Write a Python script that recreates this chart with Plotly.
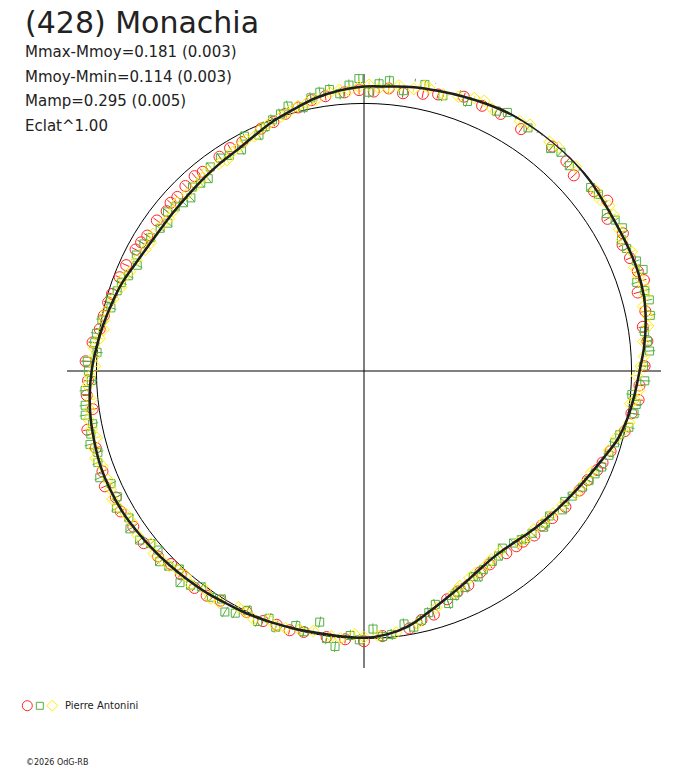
import plotly.graph_objects as go

# fitted lightcurve (phase in degrees, relative flux, 1.0 = mean)
fit_phase = [0, 5, 10, 15, 20, 25, 30, 35, 40, 45, 50, 55, 60, 65, 70, 75, 80, 85, 90, 95,
             100, 105, 110, 115, 120, 125, 130, 135, 140, 145, 150, 155, 160, 165, 170, 175,
             180, 185, 190, 195, 200, 205, 210, 215, 220, 225, 230, 235, 240, 245, 250, 255,
             260, 265, 270, 275, 280, 285, 290, 295, 300, 305, 310, 315, 320, 325, 330, 335,
             340, 345, 350, 355, 360]
fit_flux = [1.063, 1.067, 1.077, 1.083, 1.091, 1.099, 1.106, 1.109, 1.110, 1.109, 1.104, 1.096,
            1.091, 1.090, 1.089, 1.083, 1.069, 1.051, 1.030, 1.015, 1.001, 0.982, 0.952, 0.927,
            0.907, 0.890, 0.875, 0.862, 0.850, 0.848, 0.859, 0.879, 0.903, 0.933, 0.967, 0.988,
            0.997, 0.995, 0.994, 0.997, 1.001, 1.006, 1.009, 1.016, 1.021, 1.027, 1.033, 1.039,
            1.045, 1.047, 1.047, 1.042, 1.037, 1.029, 1.018, 1.004, 0.990, 0.976, 0.962, 0.944,
            0.932, 0.927, 0.927, 0.930, 0.936, 0.944, 0.952, 0.970, 0.993, 1.013, 1.036, 1.052,
            1.063]

# observations, one list pair per session symbol
red_phase = [2, 8, 12, 20, 28, 33, 37, 44, 47, 52, 58, 62, 64, 67, 70, 74, 78, 84, 89, 93,
             96, 103, 108, 113, 119, 124, 128, 134, 137, 142, 147, 150, 154, 160, 164, 170,
             176, 184, 188, 193, 196, 202, 206, 212, 218, 222, 228, 236, 243, 249, 254, 258,
             262, 268, 272, 282, 287, 291, 294, 298, 302, 306, 309, 313, 316, 321, 326, 332,
             337, 343, 349, 352, 356,
             5, 15, 24, 40, 55, 72, 81, 99, 111, 116, 131, 139, 157, 167, 180, 199, 215, 225,
             232, 240, 246, 265, 276, 279, 285, 300, 311, 319, 329, 340, 346, 359]
red_flux = [1.045, 1.048, 1.059, 1.091, 1.088, 1.078, 1.119, 1.089, 1.072, 1.091, 1.073, 1.096,
            1.075, 1.080, 1.089, 1.064, 1.075, 1.065, 1.049, 1.031, 1.032, 1.000, 0.969, 0.947,
            0.921, 0.908, 0.893, 0.885, 0.872, 0.864, 0.862, 0.869, 0.890, 0.908, 0.947, 0.977,
            0.993, 1.005, 1.004, 1.001, 1.008, 1.008, 1.002, 1.012, 1.029, 1.023, 1.036, 1.040,
            1.041, 1.047, 1.043, 1.057, 1.024, 1.032, 1.041, 0.994, 0.985, 0.978, 0.973, 0.967,
            0.955, 0.957, 0.949, 0.954, 0.961, 0.958, 0.966, 0.969, 0.984, 1.005, 1.031, 1.037,
            1.044,
            1.060, 1.070, 1.085, 1.095, 1.110, 1.100, 1.055, 1.012, 0.955, 0.930, 0.880, 0.868,
            0.895, 0.955, 1.010, 1.003, 1.025, 1.020, 1.045, 1.050, 1.060, 1.040, 1.020, 1.000,
            0.990, 0.962, 0.958, 0.965, 0.972, 0.990, 1.015, 1.050]

green_phase = [359, 1, 5, 8, 10, 14, 16, 21, 24, 27, 31, 34, 38, 42, 45, 49, 53, 57, 61, 65,
               68, 72, 76, 79, 82, 86, 89, 92, 95, 99, 102, 106, 109, 112, 116, 118, 121, 125,
               128, 131, 134, 136, 139, 142, 146, 149, 152, 155, 157, 160, 163, 167, 171, 174,
               178, 181, 186, 190, 195, 199, 203, 206, 210, 214, 217, 221, 225, 229, 233, 238,
               241, 246, 251, 255, 259, 263, 266, 270, 274, 278, 281, 284, 288, 292, 297, 302,
               307, 311, 315, 319, 323, 328, 333, 336, 340, 344, 347, 351, 355,
               3, 12, 19, 29, 36, 40, 47, 51, 55, 59, 63, 70, 74, 84, 97, 104, 114, 123, 130,
               137, 144, 151, 158, 165, 169, 176, 183, 188, 193, 201, 208, 212, 219, 223, 227,
               231, 236, 243, 248, 253, 257, 261, 268, 272, 276, 286, 290, 295, 300, 305, 309,
               313, 317, 321, 326, 331, 338, 342, 349, 353, 357]
green_flux = [1.093, 1.042, 1.089, 1.058, 1.119, 1.128, 1.070, 1.079, 1.125, 1.090, 1.118, 1.096,
              1.131, 1.100, 1.085, 1.126, 1.097, 1.080, 1.104, 1.083, 1.098, 1.072, 1.099, 1.090,
              1.058, 1.070, 1.045, 1.050, 1.005, 1.022, 1.012, 0.974, 0.968, 0.958, 0.935, 0.925,
              0.908, 0.905, 0.880, 0.890, 0.873, 0.870, 0.852, 0.840, 0.858, 0.866, 0.870, 0.893,
              0.897, 0.925, 0.912, 0.956, 0.957, 0.990, 0.965, 1.005, 1.035, 0.953, 0.985, 1.013,
              1.017, 0.995, 1.040, 1.020, 1.010, 1.048, 1.032, 1.020, 1.050, 1.036, 1.058, 1.035,
              1.052, 1.060, 1.033, 1.050, 1.045, 1.030, 1.000, 1.010, 0.998, 0.975, 0.970, 0.950,
              0.955, 0.940, 0.918, 0.935, 0.915, 0.930, 0.955, 0.950, 0.985, 0.965, 0.999, 1.030,
              1.010, 1.055, 1.040,
              1.075, 1.095, 1.112, 1.105, 1.120, 1.085, 1.115, 1.090, 1.118, 1.095, 1.080, 1.110,
              1.092, 1.065, 1.025, 0.985, 0.945, 0.895, 0.885, 0.862, 0.855, 0.880, 0.905, 0.935,
              0.975, 0.995, 0.990, 1.010, 1.000, 0.990, 1.025, 1.005, 1.030, 1.012, 1.045, 1.025,
              1.055, 1.035, 1.065, 1.040, 1.048, 1.055, 1.020, 1.035, 1.012, 0.985, 0.965, 0.935,
              0.950, 0.930, 0.945, 0.922, 0.940, 0.925, 0.960, 0.945, 0.985, 1.010, 1.040, 1.060,
              1.070]

yellow_phase = [3, 7, 10, 13, 16, 19, 22, 26, 29, 32, 36, 39, 43, 46, 50, 54, 58, 63, 66, 69,
                73, 77, 81, 84, 87, 91, 94, 97, 101, 105, 114, 120, 127, 133, 138, 143, 148,
                153, 158, 168, 177, 182, 187, 191, 197, 201, 204, 208, 212, 216, 219, 223, 227,
                231, 234, 239, 243, 247, 252, 256, 260, 264, 267, 271, 275, 279, 283, 289, 293,
                299, 303, 308, 312, 318, 322, 327, 331, 335, 339, 342, 346, 350, 353, 357,
                1, 5, 12, 24, 34, 41, 48, 52, 56, 61, 71, 75, 79, 89, 96, 103, 108, 117, 124,
                130, 136, 146, 151, 156, 163, 173, 180, 185, 194, 199, 206, 214, 221, 225, 229,
                237, 241, 245, 250, 254, 258, 262, 269, 273, 277, 281, 286, 291, 296, 301, 306,
                310, 315, 320, 325, 329, 333, 337, 344, 348, 355, 359]
yellow_flux = [1.058, 1.075, 1.070, 1.085, 1.075, 1.084, 1.100, 1.091, 1.112, 1.100, 1.115, 1.102,
               1.118, 1.100, 1.112, 1.090, 1.100, 1.083, 1.095, 1.082, 1.092, 1.070, 1.075, 1.050,
               1.048, 1.020, 1.030, 1.003, 1.010, 0.975, 0.930, 0.915, 0.885, 0.868, 0.862, 0.845,
               0.858, 0.868, 0.895, 0.965, 0.990, 0.985, 1.000, 0.990, 1.005, 0.995, 1.015, 1.000,
               1.020, 1.010, 1.028, 1.018, 1.035, 1.025, 1.045, 1.038, 1.055, 1.040, 1.055, 1.030,
               1.045, 1.025, 1.035, 1.005, 1.015, 0.985, 0.990, 0.960, 0.950, 0.935, 0.940, 0.925,
               0.940, 0.935, 0.950, 0.940, 0.960, 0.968, 0.990, 1.000, 1.020, 1.030, 1.048, 1.050,
               1.070, 1.060, 1.090, 1.105, 1.110, 1.108, 1.120, 1.098, 1.105, 1.090, 1.085, 1.088,
               1.080, 1.035, 1.018, 0.995, 0.962, 0.925, 0.895, 0.878, 0.870, 0.850, 0.862, 0.880,
               0.925, 0.985, 0.995, 1.003, 0.995, 1.010, 1.005, 1.025, 1.015, 1.030, 1.040, 1.035,
               1.050, 1.045, 1.040, 1.050, 1.040, 1.035, 1.025, 1.010, 0.995, 0.990, 0.975, 0.965,
               0.945, 0.930, 0.932, 0.930, 0.935, 0.940, 0.945, 0.955, 0.970, 0.985, 1.010, 1.025,
               1.055, 1.062]

R_MAX = 1.11

W, H = 688, 768


def px(x):
    return x / W


def py(y):
    return 1 - y / H


def err_segments(phase, flux, e):
    th, rr = [], []
    for t, r in zip(phase, flux):
        th += [t, t, None]
        rr += [r - e, r + e, None]
    return th, rr


series = [
    (red_phase, red_flux, '#ff2424', 'circle-open', 11, 0.016),
    (green_phase, green_flux, '#52b043', 'square-open', 8, 0.021),
    (yellow_phase, yellow_flux, '#ffee00', 'diamond-open', 9, 0.013),
]

fig = go.Figure()

for ph, fl, col, sym, sz, e in series:
    th, rr = err_segments(ph, fl, e)
    fig.add_trace(go.Scatterpolar(r=rr, theta=th, mode='lines',
                                  line=dict(color=col, width=1), hoverinfo='skip'))
    fig.add_trace(go.Scatterpolar(r=fl, theta=ph, mode='markers',
                                  marker=dict(symbol=sym, size=sz, color=col,
                                              line=dict(color=col, width=1))))

fig.add_trace(go.Scatterpolar(r=fit_flux, theta=fit_phase, mode='lines',
                              line=dict(color='#1e1e1e', width=2.5, shape='spline')))

fig.update_layout(
    width=W, height=H,
    margin=dict(l=0, r=0, t=0, b=0),
    paper_bgcolor='white',
    showlegend=False,
    polar=dict(
        domain=dict(x=[px(67), px(661)], y=[py(668), py(74)]),
        bgcolor='white',
        radialaxis=dict(range=[0, R_MAX], tickmode='array', tickvals=[1.0],
                        showgrid=True, gridcolor='black', gridwidth=1,
                        showline=False, showticklabels=False, ticks=''),
        angularaxis=dict(rotation=90, direction='clockwise', tickmode='array',
                         tickvals=[0, 90, 180, 270], showgrid=True,
                         gridcolor='black', gridwidth=1, showline=False,
                         showticklabels=False, ticks=''),
    ),
)

txt = '#222222'
fig.add_annotation(text='(428) Monachia', x=px(23), y=py(3), xref='paper', yref='paper',
                   xanchor='left', yanchor='top', showarrow=False,
                   font=dict(family='DejaVu Sans', size=30, color=txt))
stats = ['Mmax-Mmoy=0.181 (0.003)', 'Mmoy-Mmin=0.114 (0.003)',
         'Mamp=0.295 (0.005)', 'Eclat^1.00']
for i, s in enumerate(stats):
    fig.add_annotation(text=s, x=px(23), y=py(41 + i * 24.7), xref='paper', yref='paper',
                       xanchor='left', yanchor='top', showarrow=False,
                       font=dict(family='DejaVu Sans', size=15, color=txt))

# legend symbols
fig.add_shape(type='circle', xref='paper', yref='paper',
              x0=px(22.3), x1=px(32.3), y0=py(700.7), y1=py(710.7),
              line=dict(color='#ff2424', width=1))
fig.add_shape(type='rect', xref='paper', yref='paper',
              x0=px(36.3), x1=px(43.3), y0=py(702.3), y1=py(709.3),
              line=dict(color='#52b043', width=1))
fig.add_shape(type='path', xref='paper', yref='paper',
              path=f'M {px(52.3)},{py(700.2)} L {px(57.8)},{py(705.7)} '
                   f'L {px(52.3)},{py(711.2)} L {px(46.8)},{py(705.7)} Z',
              line=dict(color='#ffee00', width=1))
fig.add_annotation(text='Pierre Antonini', x=px(63), y=py(705.5), xref='paper', yref='paper',
                   xanchor='left', yanchor='middle', showarrow=False,
                   font=dict(family='DejaVu Sans', size=10, color=txt))
fig.add_annotation(text='©2026 OdG-RB', x=px(24), y=py(762), xref='paper', yref='paper',
                   xanchor='left', yanchor='middle', showarrow=False,
                   font=dict(family='DejaVu Sans', size=8, color=txt))

# drop the default page margin so the figure sits at the window corner
fig.write_html('out.html', config={'displayModeBar': False},
               post_script="document.body.style.margin='0';")
